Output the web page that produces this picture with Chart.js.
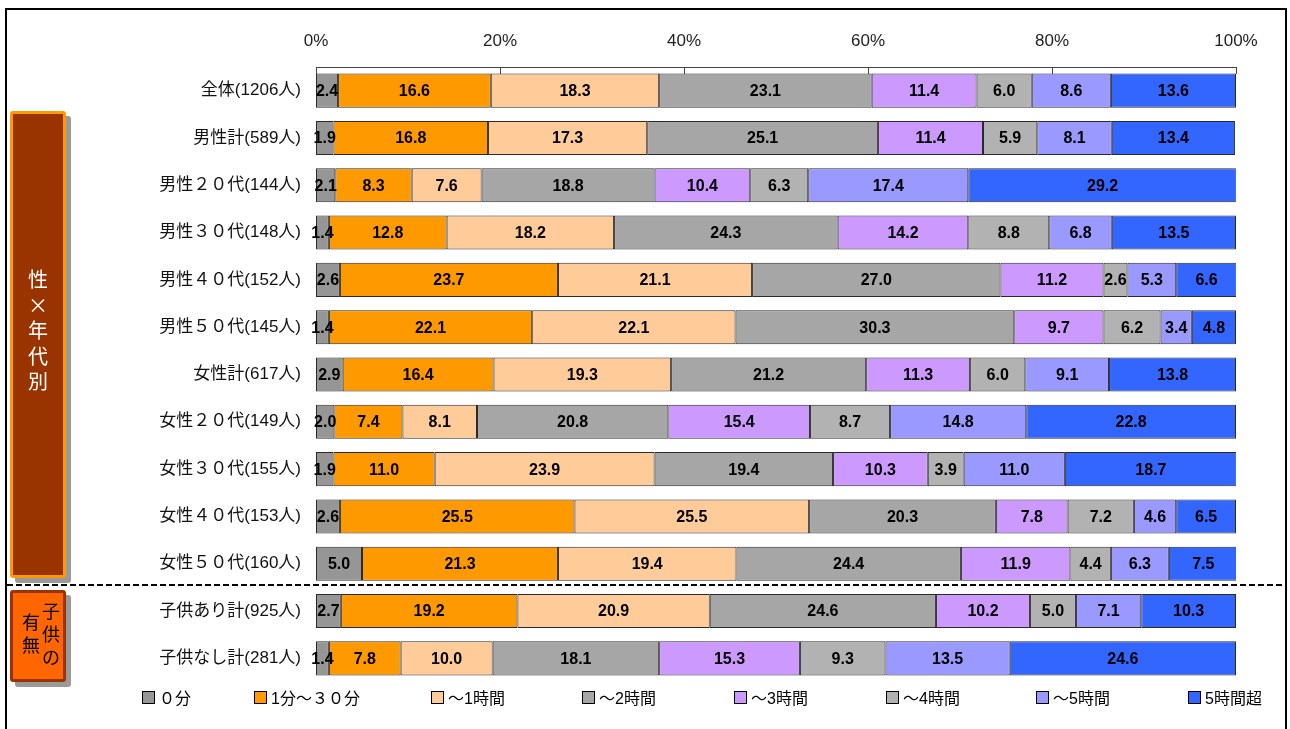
<!DOCTYPE html>
<html><head><meta charset="utf-8">
<script src="https://cdn.jsdelivr.net/npm/chart.js@4"></script>
<style>
html,body{margin:0;padding:0;background:#fff;}
#wrap{position:relative;width:1290px;height:729px;overflow:hidden;font-family:"Liberation Sans","Noto Sans CJK JP",sans-serif;}
#c{position:absolute;left:0;top:0;}
#frame{position:absolute;left:5px;top:8px;width:1282px;height:760px;border:2px solid #000;box-sizing:border-box;pointer-events:none;}
#dash{position:absolute;left:7px;top:584px;width:1278px;height:2px;background:repeating-linear-gradient(to right,#000 0 6px,transparent 6px 9px);}
.box{position:absolute;box-sizing:border-box;border-radius:3px;box-shadow:5px 5px 0 #9a9a9a;}
#box1{left:10px;top:111px;width:56px;height:467px;background:#993300;border:3px solid #FF9900;}
#box2{left:10px;top:590px;width:56px;height:92px;background:#FF6600;border:3px solid #993300;}
.vt{position:absolute;font-family:"Noto Sans CJK JP",sans-serif;text-align:center;}
#t1{left:0;width:50px;top:152px;color:#fff;font-size:20px;line-height:25.5px;}
#t2a{left:28px;width:20px;top:6px;color:#000;font-size:18px;line-height:23px;}
#t2b{left:8px;width:20px;top:17px;color:#000;font-size:18px;line-height:23px;}
.lg{position:absolute;top:686px;height:22px;display:flex;align-items:center;font-size:16px;color:#000;white-space:nowrap;}
.lg i{display:inline-block;width:11px;height:11px;border:1px solid #000;margin-right:4px;}
</style></head>
<body>
<div id="wrap">
<canvas id="c" width="1290" height="729"></canvas>
<div id="dash"></div>
<div id="box1" class="box"><div id="t1" class="vt">性<br>×<br>年<br>代<br>別</div></div>
<div id="box2" class="box"><div id="t2a" class="vt">子<br>供<br>の</div><div id="t2b" class="vt">有<br>無</div></div>
<div id="legend"></div>
<div id="frame"></div>
</div>
<script>
const categories = ["全体(1206人)","男性計(589人)","男性２０代(144人)","男性３０代(148人)","男性４０代(152人)","男性５０代(145人)","女性計(617人)","女性２０代(149人)","女性３０代(155人)","女性４０代(153人)","女性５０代(160人)","子供あり計(925人)","子供なし計(281人)"];
const seriesNames = ["０分","1分～３０分","～1時間","～2時間","～3時間","～4時間","～5時間","5時間超"];
const s0min   = [2.4,1.9,2.1,1.4,2.6,1.4,2.9,2.0,1.9,2.6,5.0,2.7,1.4];
const s1to30  = [16.6,16.8,8.3,12.8,23.7,22.1,16.4,7.4,11.0,25.5,21.3,19.2,7.8];
const sTo1h   = [18.3,17.3,7.6,18.2,21.1,22.1,19.3,8.1,23.9,25.5,19.4,20.9,10.0];
const sTo2h   = [23.1,25.1,18.8,24.3,27.0,30.3,21.2,20.8,19.4,20.3,24.4,24.6,18.1];
const sTo3h   = [11.4,11.4,10.4,14.2,11.2,9.7,11.3,15.4,10.3,7.8,11.9,10.2,15.3];
const sTo4h   = [6.0,5.9,6.3,8.8,2.6,6.2,6.0,8.7,3.9,7.2,4.4,5.0,9.3];
const sTo5h   = [8.6,8.1,17.4,6.8,5.3,3.4,9.1,14.8,11.0,4.6,6.3,7.1,13.5];
const sOver5h = [13.6,13.4,29.2,13.5,6.6,4.8,13.8,22.8,18.7,6.5,7.5,10.3,24.6];
const tickValues = [0,20,40,60,80,100];

const seriesData = [s0min,s1to30,sTo1h,sTo2h,sTo3h,sTo4h,sTo5h,sOver5h];
const colors = ["#969696","#FF9900","#FFCC99","#A6A6A6","#CC99FF","#B2B2B2","#9999FF","#3366FF"];
const legendX = [142,254,431,582,734,886,1036,1188];

const datasets = seriesNames.map((n,i)=>({
  label:n, data:seriesData[i], backgroundColor:colors[i],
  borderColor:"#2a2a2a", borderWidth:1, borderSkipped:false,
  barPercentage:0.9, categoryPercentage:0.8
}));

const valuePlugin = {
  id:'vals',
  afterDatasetsDraw(chart){
    const ctx = chart.ctx; ctx.save();
    ctx.font = 'bold 16px "Liberation Sans", Arial, sans-serif';
    ctx.fillStyle = '#000'; ctx.textAlign='center'; ctx.textBaseline='middle';
    chart.data.datasets.forEach((ds,i)=>{
      const meta = chart.getDatasetMeta(i);
      meta.data.forEach((el,j)=>{
        const p = el.getProps(['x','y','base'], true);
        ctx.fillText(ds.data[j].toFixed(1), (p.x+p.base)/2, p.y+1);
      });
    });
    ctx.restore();
  }
};
const axisPlugin = {
  id:'topAxis',
  afterDraw(chart){
    const ctx = chart.ctx, sc = chart.scales.x, a = chart.chartArea;
    ctx.save(); ctx.strokeStyle='#444'; ctx.lineWidth=1;
    ctx.beginPath();
    ctx.moveTo(a.left, a.top+0.5); ctx.lineTo(a.right, a.top+0.5);
    tickValues.forEach(v=>{ const x=Math.round(sc.getPixelForValue(v))+0.5; ctx.moveTo(x,a.top); ctx.lineTo(x,a.top+7); });
    ctx.stroke(); ctx.restore();
  }
};

new Chart(document.getElementById('c'), {
  type:'bar',
  data:{labels:categories, datasets},
  options:{
    indexAxis:'y', responsive:false, animation:false,
    layout:{padding:{top:0,left:0,right:54,bottom:47}},
    plugins:{legend:{display:false}, tooltip:{enabled:false}},
    scales:{
      x:{position:'top', stacked:true, min:0, max:100,
         grid:{display:false, drawTicks:false}, border:{display:false},
         afterFit(s){ s.height = 67; },
         afterBuildTicks(s){ s.ticks = tickValues.map(v=>({value:v})); },
         ticks:{padding:15, color:'#222', font:{family:'"Liberation Sans", Arial', size:17}, callback:v=>v+'%'}},
      y:{stacked:true, grid:{display:false, drawTicks:false}, border:{display:false},
         afterFit(s){ s.width = 316; },
         ticks:{padding:15, color:'#111', font:{family:'"Liberation Sans","Noto Sans CJK JP"', size:17}}}
    }
  },
  plugins:[valuePlugin, axisPlugin]
});

const lg = document.getElementById('legend');
seriesNames.forEach((n,i)=>{
  const d = document.createElement('div'); d.className='lg'; d.style.left = legendX[i]+'px';
  d.innerHTML = '<i style="background:'+colors[i]+'"></i>'+n;
  lg.appendChild(d);
});
</script>
</body></html>
